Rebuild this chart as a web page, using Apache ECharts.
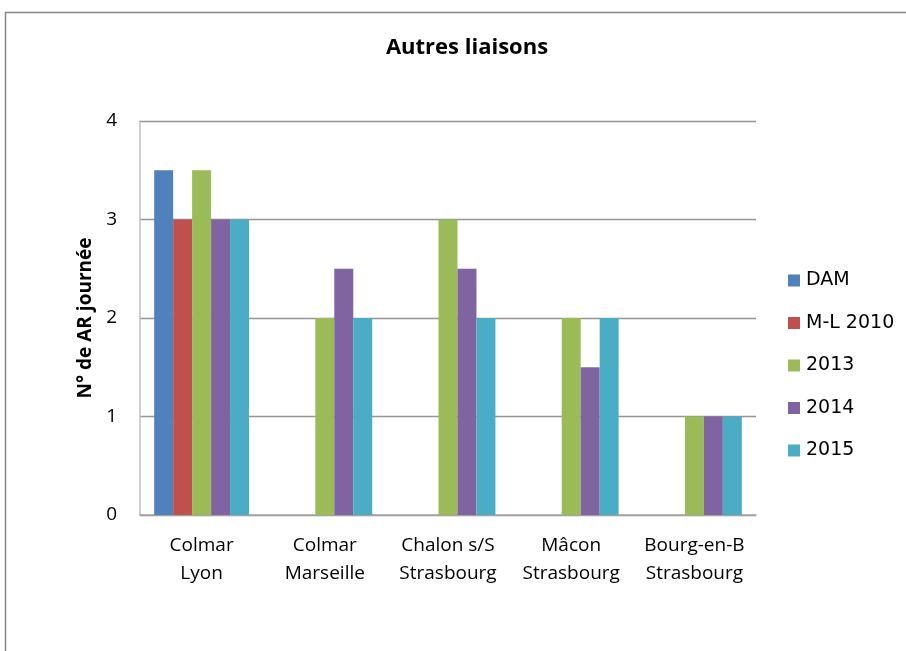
<!DOCTYPE html>
<html>
<head>
<meta charset="utf-8">
<script src="https://cdn.jsdelivr.net/npm/echarts@6/dist/echarts.min.js"></script>
<style>
  html, body { margin: 0; padding: 0; background: #fff; }
  #chart { width: 906px; height: 651px; }
</style>
</head>
<body>
<div id="chart"></div>
<script>
// données
const categories = ['Colmar\nLyon', 'Colmar\nMarseille', 'Chalon s/S\nStrasbourg', 'Mâcon\nStrasbourg', 'Bourg-en-B\nStrasbourg']
const seriesNames = ['DAM', 'M-L 2010', '2013', '2014', '2015']
const dam = [3.5, null, null, null, null]
const ml2010 = [3, null, null, null, null]
const y2013 = [3.5, 2, 3, 2, 1]
const y2014 = [3, 2.5, 2.5, 1.5, 1]
const y2015 = [3, 2, 2, 2, 1]
const yTicks = [0, 1, 2, 3, 4]

const colors = ['#4F81BD', '#C0504D', '#9BBB59', '#8064A2', '#4BACC6']
const values = [dam, ml2010, y2013, y2014, y2015]
const font = "'Open Sans', 'Noto Sans', sans-serif"

var myChart = echarts.init(document.getElementById('chart'))
myChart.setOption({
  animation: false,
  title: {
    text: 'Autres liaisons',
    left: 462,
    textAlign: 'center',
    top: 32,
    textStyle: { fontFamily: font, fontSize: 22, fontWeight: 'bold', color: '#000' }
  },
  graphic: [{
    type: 'rect',
    shape: { x: 5.5, y: 12.5, width: 920, height: 660 },
    style: { fill: null, stroke: '#868686', lineWidth: 1.5 },
    silent: true
  }],
  legend: {
    orient: 'vertical',
    left: 783,
    top: 266,
    itemWidth: 12,
    itemHeight: 12,
    itemGap: 23.5,
    icon: 'rect',
    data: seriesNames,
    textStyle: { fontFamily: "'DejaVu Sans', sans-serif", fontSize: 19, color: '#000', padding: [0, 0, 0, 1] }
  },
  grid: { left: 140, right: 150, top: 121, bottom: 136 },
  xAxis: {
    type: 'category',
    data: categories,
    axisLine: { lineStyle: { color: '#a6a6a6', width: 1.5 } },
    axisTick: { show: false },
    axisLabel: { fontFamily: font, fontSize: 19, color: '#000', lineHeight: 28, margin: 17, interval: 0 }
  },
  yAxis: {
    type: 'value',
    min: yTicks[0],
    max: yTicks[yTicks.length - 1],
    interval: 1,
    name: 'N° de AR journée',
    nameLocation: 'middle',
    nameGap: 45,
    nameTextStyle: { fontFamily: font, fontSize: 19, fontWeight: 'bold', color: '#000' },
    axisLine: { show: true, lineStyle: { color: '#bfbfbf', width: 1.5 } },
    axisTick: { show: false },
    splitLine: { lineStyle: { color: '#959595', width: 1.3 } },
    axisLabel: { fontFamily: font, fontSize: 19, color: '#000', margin: 23 }
  },
  series: seriesNames.map((name, i) => ({
    name: name,
    type: 'bar',
    data: values[i],
    barGap: '0%',
    barCategoryGap: '23%',
    itemStyle: { color: colors[i] }
  }))
})
</script>
</body>
</html>
